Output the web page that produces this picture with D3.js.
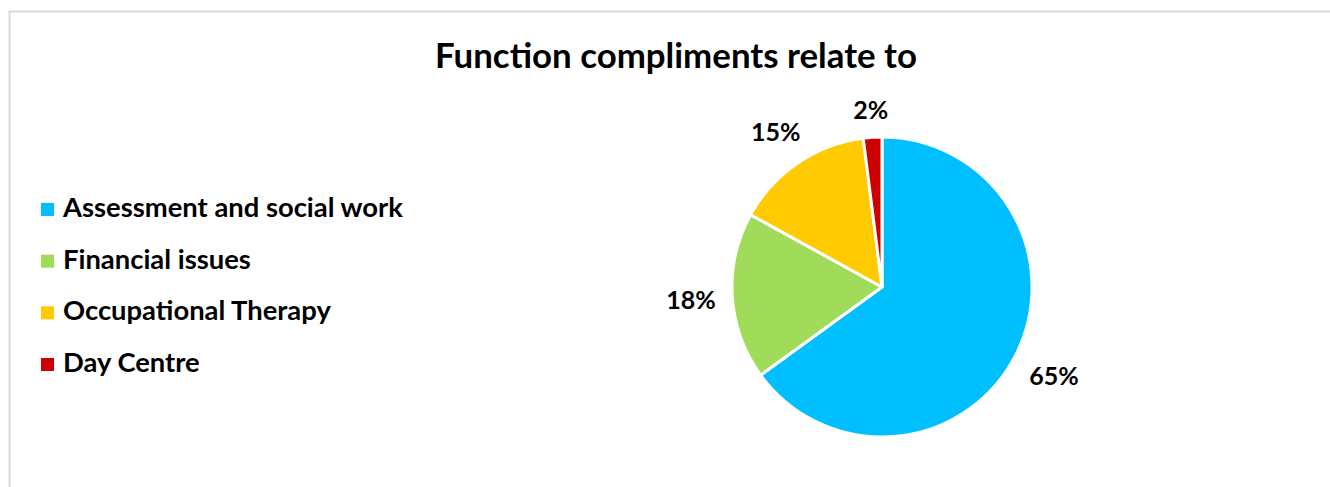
<!DOCTYPE html>
<html>
<head>
<meta charset="utf-8">
<script src="https://cdn.jsdelivr.net/npm/d3@7"></script>
<style>
  html, body { margin: 0; padding: 0; background: #fff; }
  svg { display: block; }
  text { font-family: Lato, "Open Sans", sans-serif; font-weight: bold; fill: #000; }
</style>
</head>
<body>
<svg id="chart" width="1330" height="487"></svg>
<script>
// Data
const titleText = "Function compliments relate to";
const categories = ["Assessment and social work", "Financial issues", "Occupational Therapy", "Day Centre"];
const values = [65, 18, 15, 2];
const colors = ["#00BFFF", "#A0DC5A", "#FFCA00", "#CC0000"];

const W = 1330, H = 487;
const svg = d3.select("#chart");

// Chart frame
svg.append("rect")
  .attr("x", 9.5).attr("y", 11.5)
  .attr("width", W).attr("height", H)
  .attr("fill", "#fff")
  .attr("stroke", "#d9d9d9").attr("stroke-width", 2);

// Shrink/grow a text node's font size so it spans the given width
function fitWidth(sel, target, startSize) {
  sel.style("font-size", startSize + "px");
  const w = sel.node().getComputedTextLength();
  sel.style("font-size", (startSize * target / w).toFixed(2) + "px");
  return sel;
}

// Title
const title = svg.append("text")
  .attr("x", 676).attr("y", 68)
  .attr("text-anchor", "middle")
  .text(titleText);
fitWidth(title, 482, 30);

// Legend
const legendY = d3.scalePoint().domain(categories).range([217, 372]);
const legend = svg.append("g");
categories.forEach((c, i) => {
  const y = legendY(c);
  legend.append("rect")
    .attr("x", 41).attr("y", y - 14)
    .attr("width", 13).attr("height", 13)
    .attr("fill", colors[i]);
  legend.append("text")
    .attr("x", 63).attr("y", y)
    .text(c);
});
// Size legend font from the widest entry
{
  const first = legend.selectAll("text").filter((d, i) => i === 0);
  fitWidth(first, 340, 24);
  const fs = first.style("font-size");
  legend.selectAll("text").style("font-size", fs);
}

// Pie
const cx = 882, cy = 287, r = 150;
const pie = d3.pie().sort(null).value(d => d)(values);
const arc = d3.arc().innerRadius(0).outerRadius(r);
const g = svg.append("g").attr("transform", `translate(${cx},${cy})`);

g.selectAll("path")
  .data(pie)
  .join("path")
  .attr("d", arc)
  .attr("fill", (d, i) => colors[i])
  .attr("stroke", "#fff")
  .attr("stroke-width", 3)
  .attr("stroke-linejoin", "round");

// Percentage labels placed just outside each slice
const pct = d3.format(".0%");
const total = d3.sum(values);
const gap = 16;
g.selectAll("text.lbl")
  .data(pie)
  .join("text")
  .attr("class", "lbl")
  .attr("text-anchor", "middle")
  .attr("dominant-baseline", "central")
  .style("font-size", "25px")
  .text(d => pct(d.data / total))
  .each(function(d) {
    const a = (d.startAngle + d.endAngle) / 2;
    const dx = Math.sin(a), dy = -Math.cos(a);
    const bb = this.getBBox();
    const ext = Math.abs(dx) * bb.width / 2 + Math.abs(dy) * 22 / 2;
    const rr = r + gap + ext;
    d3.select(this).attr("x", dx * rr).attr("y", dy * rr);
  });
</script>
</body>
</html>
